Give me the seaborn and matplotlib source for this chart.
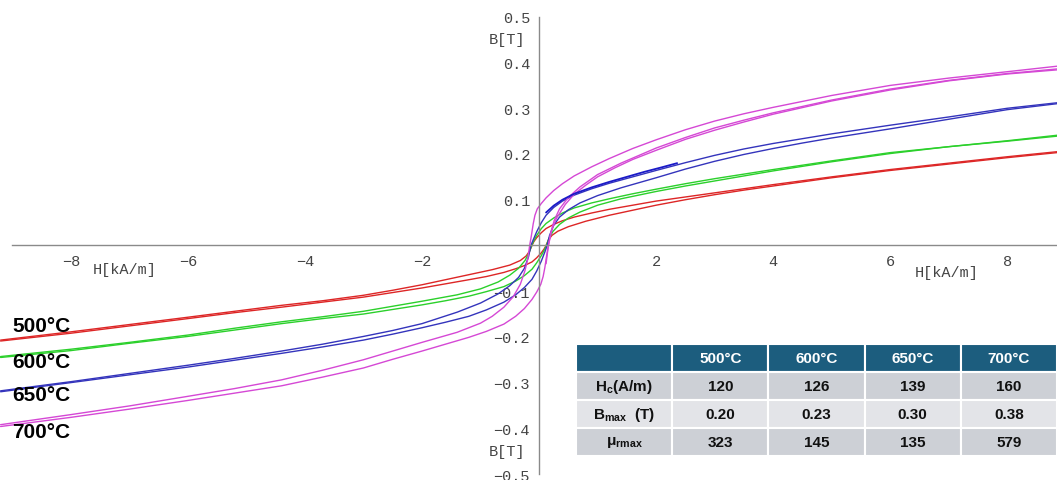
import numpy as np
import pandas as pd
import seaborn as sns
import matplotlib.pyplot as plt

# temperatures and line colours
temps = ['500°C', '600°C', '650°C', '700°C']
colors = ['#dd2626', '#2bd02b', '#3434bc', '#d548d5']

# hysteresis branches, H in kA/m, B in T
red_up_H = [8.85, 8, 7, 6, 5, 4, 3.5, 3, 2.5, 2, 1.6, 1.2, 0.9, 0.6, 0.4, 0.25, 0.12, 0.04, -0.04, -0.09, -0.12, -0.16, -0.22, -0.32, -0.5, -0.8, -1.2, -1.6, -2, -2.5, -3, -3.7, -4.4, -5.2, -6, -7, -8, -9.2]
red_up_B = [0.205, 0.194, 0.180, 0.166, 0.150, 0.133, 0.124, 0.115, 0.106, 0.097, 0.088, 0.079, 0.071, 0.062, 0.054, 0.046, 0.037, 0.028, 0.017, 0.008, 0.0, -0.012, -0.023, -0.033, -0.043, -0.053, -0.064, -0.075, -0.086, -0.098, -0.109, -0.121, -0.131, -0.144, -0.157, -0.173, -0.189, -0.207]
red_lo_H = [-9.2, -8, -7, -6, -5.2, -4.4, -3.7, -3, -2.5, -2, -1.6, -1.2, -0.9, -0.6, -0.4, -0.25, -0.12, -0.04, 0.04, 0.09, 0.12, 0.16, 0.22, 0.32, 0.5, 0.8, 1.2, 1.6, 2, 2.5, 3, 3.5, 4, 5, 6, 7, 8, 8.85]
red_lo_B = [-0.209, -0.192, -0.176, -0.160, -0.147, -0.135, -0.124, -0.113, -0.103, -0.093, -0.084, -0.075, -0.068, -0.059, -0.051, -0.044, -0.036, -0.027, -0.016, -0.007, 0.0, 0.012, 0.022, 0.031, 0.041, 0.053, 0.066, 0.077, 0.088, 0.100, 0.111, 0.121, 0.130, 0.148, 0.164, 0.178, 0.192, 0.203]

green_up_H = [8.85, 8, 7, 6, 5, 4, 3.5, 3, 2.5, 2, 1.6, 1.2, 0.9, 0.6, 0.4, 0.25, 0.12, 0.04, -0.04, -0.09, -0.126, -0.17, -0.24, -0.35, -0.5, -0.7, -1, -1.4, -2, -2.5, -3, -3.7, -4.4, -5.2, -6, -7, -8, -9.2]
green_up_B = [0.241, 0.229, 0.216, 0.203, 0.185, 0.166, 0.156, 0.146, 0.135, 0.123, 0.113, 0.102, 0.093, 0.082, 0.071, 0.060, 0.048, 0.037, 0.022, 0.010, 0.0, -0.016, -0.033, -0.050, -0.065, -0.080, -0.095, -0.108, -0.122, -0.133, -0.144, -0.156, -0.167, -0.181, -0.196, -0.212, -0.227, -0.243]
green_lo_H = [-9.2, -8, -7, -6, -5.2, -4.4, -3.7, -3, -2.5, -2, -1.6, -1.2, -0.9, -0.6, -0.4, -0.25, -0.12, -0.04, 0.04, 0.09, 0.126, 0.17, 0.24, 0.35, 0.5, 0.7, 1, 1.4, 2, 2.5, 3, 3.5, 4, 5, 6, 7, 8, 8.85]
green_lo_B = [-0.245, -0.230, -0.214, -0.199, -0.185, -0.171, -0.160, -0.150, -0.140, -0.130, -0.121, -0.111, -0.101, -0.090, -0.078, -0.066, -0.052, -0.038, -0.022, -0.010, 0.0, 0.016, 0.031, 0.046, 0.060, 0.073, 0.088, 0.102, 0.118, 0.130, 0.141, 0.152, 0.163, 0.183, 0.201, 0.216, 0.228, 0.239]

blue_up_H = [8.85, 8, 7, 6, 5, 4, 3.5, 3, 2.5, 2, 1.6, 1.2, 0.9, 0.6, 0.4, 0.25, 0.12, 0.04, -0.04, -0.1, -0.139, -0.18, -0.25, -0.35, -0.5, -0.7, -1, -1.4, -2, -2.5, -3, -3.7, -4.4, -5.2, -6, -7, -8, -9.2]
blue_up_B = [0.312, 0.300, 0.281, 0.263, 0.244, 0.223, 0.211, 0.197, 0.181, 0.164, 0.150, 0.136, 0.124, 0.110, 0.097, 0.083, 0.066, 0.050, 0.030, 0.012, 0.0, -0.025, -0.050, -0.070, -0.088, -0.106, -0.126, -0.146, -0.171, -0.186, -0.199, -0.216, -0.231, -0.247, -0.262, -0.280, -0.298, -0.318]
blue_lo_H = [-9.2, -8, -7, -6, -5.2, -4.4, -3.7, -3, -2.5, -2, -1.6, -1.2, -0.9, -0.6, -0.4, -0.25, -0.12, -0.04, 0.04, 0.1, 0.139, 0.18, 0.25, 0.35, 0.5, 0.7, 1, 1.4, 2, 2.5, 3, 3.5, 4, 4.5, 5, 6, 7, 8, 8.85]
blue_lo_B = [-0.320, -0.300, -0.283, -0.266, -0.251, -0.236, -0.222, -0.207, -0.194, -0.180, -0.168, -0.155, -0.141, -0.124, -0.108, -0.092, -0.074, -0.056, -0.034, -0.014, 0.0, 0.022, 0.044, 0.062, 0.078, 0.093, 0.109, 0.126, 0.148, 0.167, 0.184, 0.199, 0.212, 0.224, 0.235, 0.255, 0.276, 0.297, 0.310]
blue_minor_H = [2.36, 2.1, 1.8, 1.5, 1.2, 0.9, 0.6, 0.4, 0.25, 0.12]
blue_minor_B = [0.180, 0.171, 0.161, 0.150, 0.139, 0.127, 0.113, 0.100, 0.087, 0.072]

mag_up_H = [8.85, 8, 7, 6, 5, 4, 3.5, 3, 2.5, 2, 1.6, 1.2, 0.9, 0.6, 0.4, 0.25, 0.12, 0.04, -0.03, -0.07, -0.1, -0.13, -0.16, -0.19, -0.24, -0.32, -0.44, -0.6, -0.8, -1, -1.4, -2, -2.5, -3, -3.7, -4.4, -5.2, -6, -7, -8, -9.2]
mag_up_B = [0.392, 0.380, 0.366, 0.350, 0.328, 0.302, 0.288, 0.272, 0.253, 0.231, 0.212, 0.190, 0.172, 0.152, 0.135, 0.120, 0.104, 0.092, 0.080, 0.066, 0.047, 0.022, 0.0, -0.028, -0.055, -0.085, -0.112, -0.135, -0.155, -0.170, -0.190, -0.212, -0.231, -0.250, -0.273, -0.294, -0.313, -0.330, -0.351, -0.370, -0.392]
mag_lo_H = [-9.2, -8, -7, -6, -5.2, -4.4, -3.7, -3, -2.5, -2, -1.6, -1.2, -0.9, -0.6, -0.4, -0.25, -0.12, -0.04, 0.03, 0.07, 0.1, 0.13, 0.16, 0.2, 0.26, 0.35, 0.5, 0.7, 1, 1.4, 2, 2.5, 3, 3.5, 4, 5, 6, 7, 8, 8.85]
mag_lo_B = [-0.396, -0.376, -0.358, -0.339, -0.323, -0.307, -0.288, -0.268, -0.249, -0.231, -0.216, -0.201, -0.188, -0.172, -0.155, -0.138, -0.118, -0.102, -0.085, -0.068, -0.048, -0.022, 0.0, 0.028, 0.055, 0.080, 0.105, 0.128, 0.155, 0.180, 0.213, 0.236, 0.257, 0.274, 0.290, 0.318, 0.342, 0.361, 0.376, 0.386]
mag_lo2_H = [0.12, 0.16, 0.22, 0.3, 0.45, 0.6, 0.8, 1, 1.3, 1.6, 2, 2.5, 3, 3.5, 4, 5, 6, 7, 8, 8.85]
mag_lo2_B = [-0.040, 0.0, 0.035, 0.060, 0.090, 0.112, 0.132, 0.150, 0.170, 0.188, 0.208, 0.232, 0.252, 0.270, 0.287, 0.316, 0.340, 0.360, 0.375, 0.384]

# table values
col_labels = ['', '500°C', '600°C', '650°C', '700°C']
row_labels = [r'$H_c$(A/m)', r'$B_{max}$  (T)', r'$\mu_{rmax}$']
hc_vals = ['120', '126', '139', '160']
bmax_vals = ['0.20', '0.23', '0.30', '0.38']
mu_vals = ['323', '145', '135', '579']

branches = [
    ('500°C', 'r_up', red_up_H, red_up_B), ('500°C', 'r_lo', red_lo_H, red_lo_B),
    ('600°C', 'g_up', green_up_H, green_up_B), ('600°C', 'g_lo', green_lo_H, green_lo_B),
    ('650°C', 'b_up', blue_up_H, blue_up_B), ('650°C', 'b_lo', blue_lo_H, blue_lo_B),
    ('700°C', 'm_up', mag_up_H, mag_up_B), ('700°C', 'm_lo', mag_lo_H, mag_lo_B),
    ('700°C', 'm_lo2', mag_lo2_H, mag_lo2_B),
]
frames = []
for t, name, h, b in branches:
    frames.append(pd.DataFrame({'H': h, 'B': b, 'temp': t, 'branch': name}))
df = pd.concat(frames, ignore_index=True)

sns.set_style('white')
plt.rcParams['font.family'] = ['Liberation Mono', 'DejaVu Sans']
plt.rcParams['mathtext.fontset'] = 'custom'
plt.rcParams['mathtext.rm'] = 'Liberation Sans:bold'
plt.rcParams['mathtext.it'] = 'Liberation Sans:bold'
plt.rcParams['mathtext.default'] = 'rm'

fig = plt.figure(figsize=(10.57, 4.81), dpi=100)
ax = fig.add_axes([0, 0, 1, 1])

sns.lineplot(data=df, x='H', y='B', hue='temp', units='branch', estimator=None,
             sort=False, palette=dict(zip(temps, colors)), legend=False,
             lw=1.0, ax=ax)
minor = pd.DataFrame({'H': blue_minor_H, 'B': blue_minor_B})
sns.lineplot(data=minor, x='H', y='B', sort=False, color='#1a1ac8', lw=1.3, ax=ax)

# axes through the origin
ax.set_xlim(-9.21, 8.85)
ax.set_ylim(-0.513, 0.539)
for s in ['top', 'right']:
    ax.spines[s].set_visible(False)
ax.spines['left'].set_position(('data', 0))
ax.spines['bottom'].set_position(('data', 0))
ax.spines['left'].set_bounds(-0.5, 0.5)
ax.spines['bottom'].set_bounds(-9.0, 8.85)
for s in ['left', 'bottom']:
    ax.spines[s].set_color('#8a8a8a')
    ax.spines[s].set_linewidth(1.0)

xt = [-8, -6, -4, -2, 2, 4, 6, 8]
yt = [0.5, 0.4, 0.3, 0.2, 0.1, -0.1, -0.2, -0.3, -0.4, -0.5]
ax.set_xticks(xt)
ax.set_xticklabels([str(v).replace('-', '\u2212') for v in xt])
ax.set_yticks(yt)
ax.set_yticklabels([('%.1f' % v).replace('-', '\u2212') for v in yt])
ax.tick_params(axis='x', direction='in', length=5, width=1, color='#8a8a8a',
               labelsize=11, labelcolor='#444444', pad=6)
ax.tick_params(axis='y', direction='inout', length=7, width=1, color='#8a8a8a',
               labelsize=11, labelcolor='#444444', pad=3)
ax.set_xlabel('')
ax.set_ylabel('')

lab_kw = dict(fontsize=11, color='#444444', ha='center', va='center')
ax.text(-7.08, -0.051, 'H[kA/m]', **lab_kw)
ax.text(6.96, -0.058, 'H[kA/m]', **lab_kw)
ax.text(-0.55, 0.452, 'B[T]', **lab_kw)
ax.text(-0.55, -0.450, 'B[T]', **lab_kw)

# temperature labels on the left
for t, yy in zip(temps, [-0.176, -0.253, -0.327, -0.406]):
    ax.text(-9.0, yy, t, fontsize=15, fontweight='bold', family='Liberation Sans',
            ha='left', va='center', color='black')

# summary table
cell_text = [[row_labels[0]] + hc_vals,
             [row_labels[1]] + bmax_vals,
             [row_labels[2]] + mu_vals]
tbl = ax.table(cellText=cell_text, colLabels=col_labels, cellLoc='center',
               bbox=[0.545, 0.05, 0.455, 0.233])
tbl.auto_set_font_size(False)
tbl.set_fontsize(11)
for (r, c), cell in tbl.get_celld().items():
    cell.set_edgecolor('white')
    cell.set_linewidth(1.5)
    txt = cell.get_text()
    txt.set_family('Liberation Sans')
    txt.set_fontweight('bold')
    if r == 0:
        cell.set_facecolor('#1c5d7e')
        txt.set_color('white')
    else:
        cell.set_facecolor('#e3e4e8' if r == 2 else '#cdd0d6')
        txt.set_color('#111111')
    if c == 0 and r > 0:
        cell._loc = 'left'
        cell.PAD = 0.07

plt.savefig('out.png', dpi=100)
plt.close()
